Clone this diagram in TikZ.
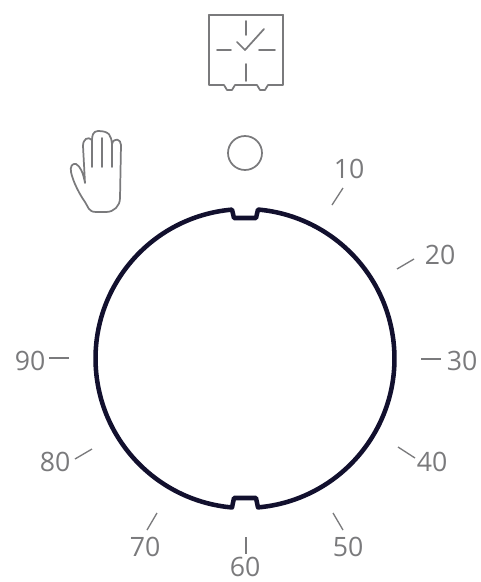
\documentclass[tikz,border=0pt]{standalone}
\usepackage{fontspec}
\setmainfont{Open Sans}
\definecolor{dialink}{HTML}{12102E}
\definecolor{dialgray}{HTML}{7A7A7C}
\begin{document}
\begin{tikzpicture}[x=0.75pt, y=-0.75pt,
                    every node/.style={dialgray, font=\fontsize{20}{20}\selectfont, inner sep=0pt},
                    icon/.style={dialgray, line width=1.3pt, line join=round, line cap=round},
                    tick/.style={dialgray, line width=1pt}]

  \useasboundingbox (0,0) rectangle (480,582);

  %% dial ring with the two notches
  \draw[dialink, line width=3.4pt, line join=round]
    (232,209.6) arc[start angle=265, end angle=95, radius=149.5]
    -- (234,498) -- (256,498) -- (258,507.4)
    arc[start angle=85, end angle=-85, radius=149.5]
    -- (256,218) -- (234,218) -- cycle;

  %% timer mark
  \draw[icon] (245,153) circle[radius=17];

  %% clock
  \draw[icon] (209,85) -- (209,15) -- (283,15) -- (283,85) -- (268,85)
    -- (265,90) -- (260,90) -- (257,85) -- (235,85)
    -- (232,90) -- (227,90) -- (224,85) -- cycle;
  \draw[icon, line width=1.8pt] (209,15) -- (283,15);
  \draw[icon] (246,21) -- (246,35);
  \draw[icon] (246,64) -- (246,81);
  \draw[icon] (217,50) -- (231,50);
  \draw[icon] (259,50) -- (275,50);
  \draw[icon] (237,42) -- (245,50) -- (264,29);

  %% hand
  \draw[icon] (85,183) .. controls (83,172) and (80,166) .. (76,164)
    .. controls (72,163) and (70,167) .. (71,172)
    .. controls (73,182) and (80,195) .. (85,202)
    .. controls (88,206) and (88,212) .. (96,212)
    -- (106,212) .. controls (114,212) and (120,206) .. (120,198)
    -- (121,145) .. controls (121,139) and (114,137) .. (112,144)
    .. controls (111,136) and (110,131) .. (98,131)
    .. controls (93,131) and (92,136) .. (92,140)
    .. controls (88,136) and (83,139) .. (83,146) -- cycle;
  \draw[icon] (92,140) -- (92,167);
  \draw[icon] (102,138) -- (102,167);
  \draw[icon] (112,144) -- (112,167);

  %% scale
  \foreach \val/\tx/\ty/\ax/\ay/\bx/\by in {
      10/349/169/332/205/343/188, 20/440/255/397/269/414/259,
      30/462/361/421/359/441/359, 40/432/462/398/447/415/458,
      50/348/547/333/513/343/530, 60/245/567/246/537/246/554,
      70/145/547/157/513/147/530, 80/55/462/92/449/75/459,
      90/30/361/69/358/49/358} {
    \coordinate (tick\val a) at (\ax,\ay);
    \coordinate (tick\val b) at (\bx,\by);
    \node (lbl\val) at (\tx,\ty) {\val};
    \draw[tick] (tick\val a) -- (tick\val b);
  }

\end{tikzpicture}
\end{document}
